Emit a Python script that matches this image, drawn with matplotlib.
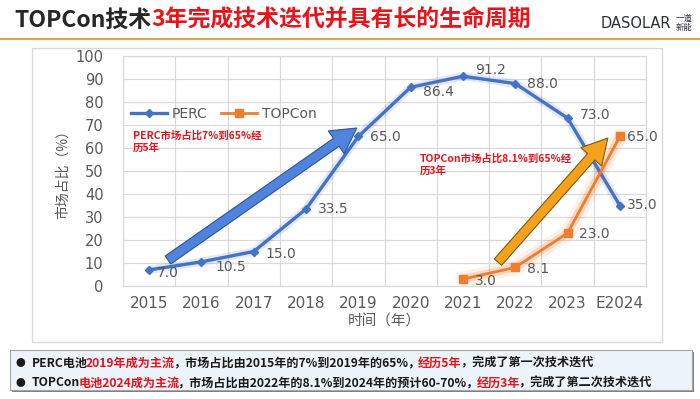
import numpy as np
import matplotlib
matplotlib.use("Agg")
import matplotlib.pyplot as plt
from matplotlib.patches import Rectangle, FancyArrowPatch

# ------------------------------------------------------------------------------
# data
# ------------------------------------------------------------------------------
years = ["2015", "2016", "2017", "2018", "2019", "2020", "2021", "2022", "2023", "E2024"]
perc = [7.0, 10.5, 15.0, 33.5, 65.0, 86.4, 91.2, 88.0, 73.0, 35.0]
topcon_years = ["2021", "2022", "2023", "E2024"]
topcon = [3.0, 8.1, 23.0, 65.0]

# label offsets (pixels) for the value labels
perc_off = [(8, -3), (14, -5), (12, -2), (12, 0), (12, -1), (12, -5), (12, 6), (12, 0), (12, 3), (7, 0)]
topcon_off = [(12, -2), (12, -2), (11, -1), (7, -1)]

# arrows: (category index, value) tail -> tip
perc_arrow = ((0.36, 11.3), (3.97, 68.7))
topcon_arrow = ((6.67, 10.4), (8.77, 64.3))

BLUE = "#4472C4"
ORANGE = "#ED7D31"
RED = "#E8141C"
GRAY = "#595959"
CJK = ["Noto Sans CJK SC", "DejaVu Sans"]

W, H = 700, 399
fig = plt.figure(figsize=(W / 100, H / 100), dpi=100)
fig.patch.set_facecolor("white")


def fx(px):
    return px / W


def fy(py):
    return 1 - py / H


# chart frame
fig.patches.append(Rectangle((fx(32), fy(342)), fx(630), 294 / H, transform=fig.transFigure,
                             facecolor="white", edgecolor="#d9d9d9", lw=1.0, zorder=-5))

ax = fig.add_axes([fx(123), fy(286), fx(523), 230 / H])
ax.set_facecolor("none")
x = np.arange(len(years))
xt = np.array([years.index(y) for y in topcon_years])

# soft glow under the lines
ax.plot(x, perc, color=BLUE, lw=6, alpha=0.15, solid_capstyle="round", zorder=2)
for lw, a in [(11, 0.10), (6, 0.22)]:
    ax.plot(xt, topcon, color=ORANGE, lw=lw, alpha=a, solid_capstyle="round", zorder=2)

ax.plot(x, perc, color=BLUE, lw=2.4, marker="D", ms=4.5, label="PERC", zorder=4)
ax.plot(xt, topcon, color=ORANGE, lw=2.0, marker="s", ms=6, label="TOPCon", zorder=4)

for xi, v, (dx, dy) in zip(x, perc, perc_off):
    ax.annotate(f"{v:.1f}", (xi, v), xytext=(dx * 0.72, dy * 0.72), textcoords="offset points",
                ha="left", va="center", fontsize=10, color=GRAY, zorder=5)
for xi, v, (dx, dy) in zip(xt, topcon, topcon_off):
    ax.annotate(f"{v:.1f}", (xi, v), xytext=(dx * 0.72, dy * 0.72), textcoords="offset points",
                ha="left", va="center", fontsize=10, color=GRAY, zorder=5)

# block arrows
for (tail, tip), fc, ec in [(perc_arrow, "#4F83DC", "#2F5597"),
                            (topcon_arrow, "#F5A11C", "#7F5A0A")]:
    arr = FancyArrowPatch(tail, tip, arrowstyle="simple,head_length=1.8,head_width=2.0,tail_width=0.7",
                          mutation_scale=10, facecolor=fc, edgecolor=ec, lw=0.8, zorder=6,
                          shrinkA=0, shrinkB=0)
    ax.add_patch(arr)

ax.text(0.019, 0.675, "PERC市场占比7%到65%经\n历5年", transform=ax.transAxes, fontsize=7.5,
        color=RED, fontweight="bold", family=CJK, va="top", ha="left", linespacing=1.2)
ax.text(0.568, 0.575, "TOPCon市场占比8.1%到65%经\n历3年", transform=ax.transAxes, fontsize=7.5,
        color=RED, fontweight="bold", family=CJK, va="top", ha="left", linespacing=1.2)

ax.set_xlim(-0.5, len(years) - 0.5)
ax.set_ylim(0, 100)
ax.set_xticks(x)
ax.set_xticklabels(years)
ax.set_yticks(np.arange(0, 101, 10))
ax.set_xticks(np.arange(-0.5, len(years), 1), minor=True)
ax.tick_params(axis="both", which="both", length=0, colors=GRAY)
ax.tick_params(axis="x", labelsize=11, pad=7)
ax.tick_params(axis="y", labelsize=10.5, pad=14)
ax.grid(axis="y", which="major", color="#d9d9d9", lw=0.9)
ax.grid(axis="x", which="minor", color="#d9d9d9", lw=0.9)
for s in ax.spines.values():
    s.set_color("#d9d9d9")
    s.set_linewidth(0.9)
ax.set_axisbelow(True)

ax.set_xlabel("时间（年）", family=CJK, fontsize=10.5, color=GRAY, labelpad=3)
ax.set_ylabel("市场占比（%）", family=CJK, fontsize=10, color=GRAY, labelpad=4)

leg = ax.legend(loc="center left", bbox_to_anchor=(0.0, 0.75), ncol=2, frameon=False,
                fontsize=10, handlelength=2.6, columnspacing=1.0, handletextpad=0.3,
                borderaxespad=0.2)
for t in leg.get_texts():
    t.set_color(GRAY)

# ------------------------------------------------------------------------------
# header
# ------------------------------------------------------------------------------
renderer = fig.canvas.get_renderer()


def rich(xpx, ypx, parts, tighten=0.0, **kw):
    """Draw text segments one after another, each in its own colour."""
    x0 = fx(xpx)
    for s, c in parts:
        t = fig.text(x0, fy(ypx), s, color=c, va="center", ha="left", **kw)
        x0 += (t.get_window_extent(renderer=renderer).width - tighten) / fig.bbox.width


rich(14, 20, [("TOPCon技术", "#262626"), ("3年完成技术迭代并具有长的生命周期", RED)],
     fontsize=16.5, fontweight="bold", family=CJK)
fig.add_artist(plt.Line2D([0, 1], [fy(39), fy(39)], transform=fig.transFigure,
                          color="#D8A84E", lw=1.6))
fig.text(fx(601), fy(23), "DASOLAR", fontsize=10.5, color="#2B2F3A", va="center", ha="left")
fig.text(fx(676), fy(23), "一道\n新能", fontsize=6, color="#2B2F3A", va="center", ha="left",
         family=CJK, linespacing=1.0)

# ------------------------------------------------------------------------------
# bullet box
# ------------------------------------------------------------------------------
fig.patches.append(Rectangle((fx(12), fy(392)), fx(682), 40 / H, transform=fig.transFigure,
                             facecolor="#7f7f7f", edgecolor="none", zorder=-2))
fig.patches.append(Rectangle((fx(10), fy(390)), fx(682), 40 / H, transform=fig.transFigure,
                             facecolor="#EDF3FA", edgecolor="#a6a6a6", lw=0.8, zorder=-1))

K = "#1a1a1a"
fig.text(fx(20), fy(363), "●", fontsize=7, color=K, va="center", ha="center", family=CJK)
fig.text(fx(20), fy(383), "●", fontsize=7, color=K, va="center", ha="center", family=CJK)
rich(32, 363, [("PERC电池", K), ("2019年成为主流", RED),
               ("，市场占比由2015年的7%到2019年的65%，", K), ("经历5年", RED),
               ("，完成了第一次技术迭代", K)],
     tighten=2, fontsize=8.7, fontweight="bold", family=CJK)
rich(32, 383, [("TOPCon", K), ("电池2024成为主流", RED),
               ("，市场占比由2022年的8.1%到2024年的预计60-70%，", K), ("经历3年", RED),
               ("，完成了第二次技术迭代", K)],
     tighten=2, fontsize=8.7, fontweight="bold", family=CJK)

fig.savefig("out.png", dpi=100)
